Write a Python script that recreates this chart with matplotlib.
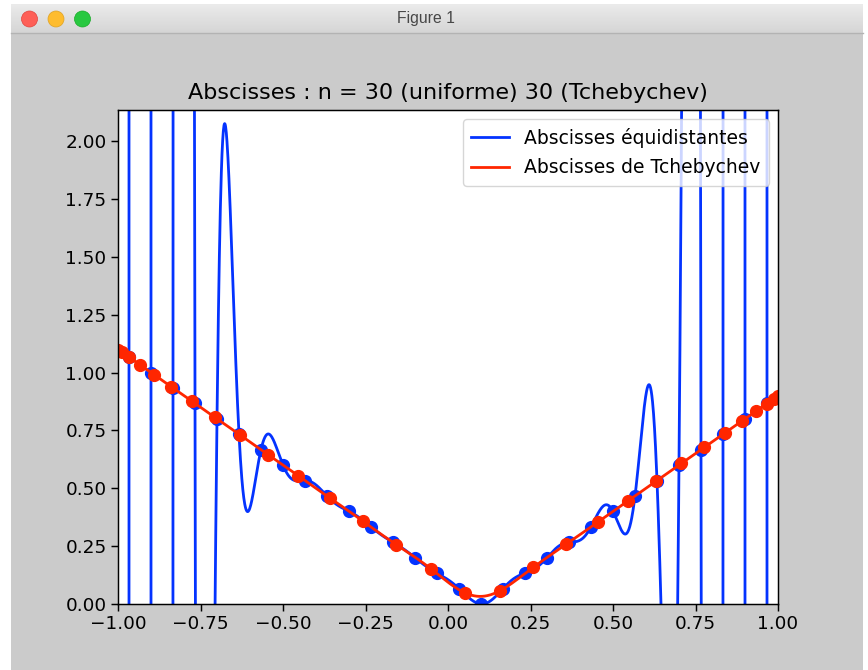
import numpy as np
import matplotlib
matplotlib.use("Agg")
import matplotlib.pyplot as plt
from matplotlib.patches import Rectangle, Circle
from matplotlib.colors import LinearSegmentedColormap

# Interpolation nodes and sampled values of f(x) = |x - 0.1|
x_unif = [-0.96667, -0.90000, -0.83333, -0.76667, -0.70000, -0.63333, -0.56667,
          -0.50000, -0.43333, -0.36667, -0.30000, -0.23333, -0.16667, -0.10000,
          -0.03333, 0.03333, 0.10000, 0.16667, 0.23333, 0.30000, 0.36667,
          0.43333, 0.50000, 0.56667, 0.63333, 0.70000, 0.76667, 0.83333,
          0.90000, 0.96667]
y_unif = [1.06667, 1.00000, 0.93333, 0.86667, 0.80000, 0.73333, 0.66667,
          0.60000, 0.53333, 0.46667, 0.40000, 0.33333, 0.26667, 0.20000,
          0.13333, 0.06667, 0.00000, 0.06667, 0.13333, 0.20000, 0.26667,
          0.33333, 0.40000, 0.46667, 0.53333, 0.60000, 0.66667, 0.73333,
          0.80000, 0.86667]

x_cheb = [-0.99863, -0.98769, -0.96593, -0.93358, -0.89101, -0.83867, -0.77715,
          -0.70711, -0.62932, -0.54464, -0.45399, -0.35837, -0.25882, -0.15643,
          -0.05234, 0.05234, 0.15643, 0.25882, 0.35837, 0.45399, 0.54464,
          0.62932, 0.70711, 0.77715, 0.83867, 0.89101, 0.93358, 0.96593,
          0.98769, 0.99863]
y_cheb = [1.09863, 1.08769, 1.06593, 1.03358, 0.99101, 0.93867, 0.87715,
          0.80711, 0.72932, 0.64464, 0.55399, 0.45837, 0.35882, 0.25643,
          0.15234, 0.04766, 0.05643, 0.15882, 0.25837, 0.35399, 0.44464,
          0.52932, 0.60711, 0.67715, 0.73867, 0.79101, 0.83358, 0.86593,
          0.88769, 0.89863]

n_unif = 30
n_cheb = 30
title = f"Abscisses : n = {n_unif} (uniforme) {n_cheb} (Tchebychev)"
label_unif = "Abscisses équidistantes"
label_cheb = "Abscisses de Tchebychev"


def lagrange_eval(xn, yn, t):
    """Evaluate the Lagrange interpolating polynomial (barycentric form)."""
    xn = np.asarray(xn, float)
    yn = np.asarray(yn, float)
    w = np.array([1.0 / np.prod(xn[j] - np.delete(xn, j)) for j in range(len(xn))])
    d = t[:, None] - xn[None, :]
    exact = np.isclose(d, 0.0, atol=1e-14)
    d[exact] = 1.0
    k = w / d
    p = (k @ yn) / k.sum(axis=1)
    rows, cols = np.nonzero(exact)
    p[rows] = yn[cols]
    return p


t = np.linspace(-1, 1, 2000)
p_unif = lagrange_eval(x_unif, y_unif, t)
p_cheb = lagrange_eval(x_cheb, y_cheb, t)

BLUE = "#0433ff"
RED = "#ff2600"
W, H = 868, 670
fig = plt.figure(figsize=(W / 100, H / 100), dpi=100, facecolor="white")

# window frame drawn in pixel coordinates
chrome = fig.add_axes([0, 0, 1, 1], zorder=-5)
chrome.set_xlim(0, W)
chrome.set_ylim(H, 0)
chrome.axis("off")
chrome.add_patch(Rectangle((11, 4), 852, 670, facecolor="#cbcbcb", edgecolor="none"))
grad = np.linspace(0, 1, 64)[:, None]
chrome.imshow(grad, extent=(11, 863, 33, 4),
              cmap=LinearSegmentedColormap.from_list("bar", ["#ebebeb", "#d5d5d5"]),
              aspect="auto", zorder=1)
chrome.plot([11, 863], [33, 33], color="#b3b3b3", lw=1, zorder=2)
for cx, col, ec in [(29.5, "#fe5f57", "#e0443e"), (56, "#febc2e", "#dea123"),
                    (82.5, "#28c840", "#1aab29")]:
    chrome.add_patch(Circle((cx, 19), 8, facecolor=col, edgecolor=ec, lw=0.5, zorder=3))
chrome.text(425.5, 19, "Figure 1", ha="center", va="center", fontsize=11.3,
            color="#474747", family=["Liberation Sans", "DejaVu Sans"], zorder=3)

ax = fig.add_axes([118 / W, 1 - 604 / H, 660 / W, 494 / H])
ax.plot(t, p_unif, color=BLUE, lw=2.0, label=label_unif)
ax.plot(x_unif, y_unif, "o", color=BLUE, ms=8.5)
ax.plot(t, p_cheb, color=RED, lw=2.0, label=label_cheb)
ax.plot(x_cheb, y_cheb, "o", color=RED, ms=8.5)

ax.set_xlim(-1, 1)
ax.set_ylim(0, 2.134)
ax.set_xticks(np.arange(-1, 1.01, 0.25))
ax.set_yticks(np.arange(0, 2.01, 0.25))
ax.tick_params(labelsize=13.3, length=4.7, width=1.06)
for s in ax.spines.values():
    s.set_linewidth(1.06)
ax.set_title(title, fontsize=16, pad=8)
ax.legend(loc="upper right", fontsize=13.5, borderpad=0.45, labelspacing=0.55)

fig.savefig("out.png", dpi=100, facecolor="white")
